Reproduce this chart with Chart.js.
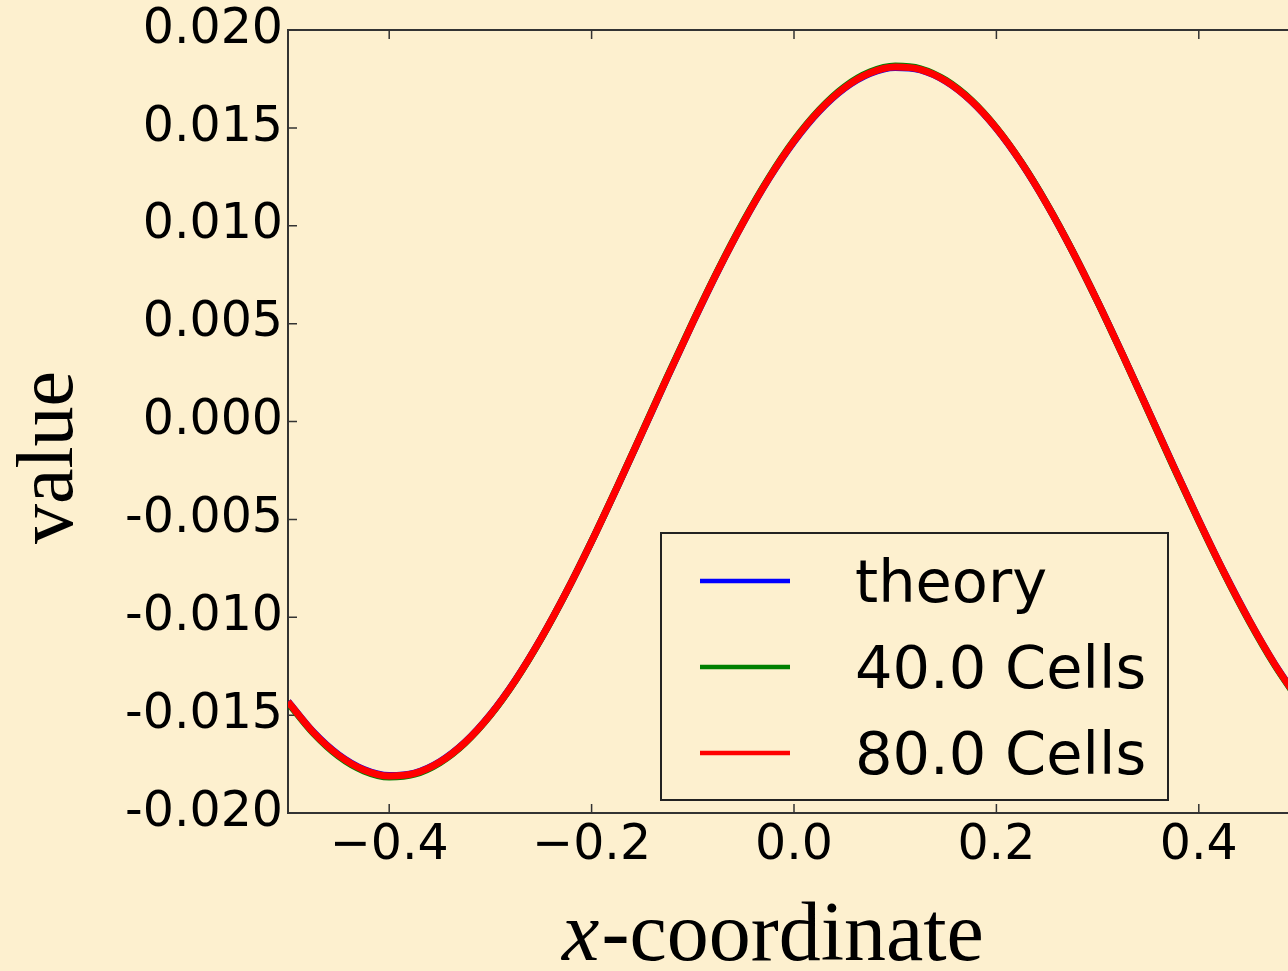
<!DOCTYPE html>
<html>
<head>
<meta charset="utf-8">
<script src="https://cdn.jsdelivr.net/npm/chart.js@4.4.0/dist/chart.umd.min.js"></script>
<style>
  html, body { margin: 0; padding: 0; background: #fdf0cf; overflow: hidden; }
  #wrap { width: 1300px; height: 971px; }
</style>
</head>
<body>
<div id="wrap"><canvas id="chart" width="1300" height="971"></canvas></div>
<script>
// --- DATA ---
const xCoords = [-0.500, -0.475, -0.450, -0.425, -0.400, -0.375, -0.350, -0.325, -0.300, -0.275,
                 -0.250, -0.225, -0.200, -0.175, -0.150, -0.125, -0.100, -0.075, -0.050, -0.025,
                 0.000, 0.025, 0.050, 0.075, 0.100, 0.125, 0.150, 0.175, 0.200, 0.225,
                 0.250, 0.275, 0.300, 0.325, 0.350, 0.375, 0.400, 0.425, 0.450, 0.475, 0.500];

const theoryValues = [-0.01430, -0.01586, -0.01703, -0.01778, -0.01809, -0.01796, -0.01738, -0.01638, -0.01497, -0.01319,
                      -0.01109, -0.00872, -0.00613, -0.00339, -0.00057, 0.00227, 0.00505, 0.00771, 0.01017, 0.01239,
                      0.01430, 0.01586, 0.01703, 0.01778, 0.01809, 0.01796, 0.01738, 0.01638, 0.01497, 0.01319,
                      0.01109, 0.00872, 0.00613, 0.00339, 0.00057, -0.00227, -0.00505, -0.00771, -0.01017, -0.01239, -0.01430];

const cells40Values = [-0.01436, -0.01592, -0.01710, -0.01785, -0.01816, -0.01802, -0.01743, -0.01642, -0.01500, -0.01321,
                       -0.01110, -0.00872, -0.00612, -0.00337, -0.00054, 0.00231, 0.00509, 0.00775, 0.01022, 0.01244,
                       0.01436, 0.01592, 0.01710, 0.01785, 0.01816, 0.01802, 0.01743, 0.01642, 0.01500, 0.01321,
                       0.01110, 0.00872, 0.00612, 0.00337, 0.00054, -0.00231, -0.00509, -0.00775, -0.01022, -0.01244, -0.01436];

const cells80Values = [-0.01432, -0.01588, -0.01705, -0.01780, -0.01811, -0.01798, -0.01740, -0.01639, -0.01498, -0.01320,
                       -0.01109, -0.00872, -0.00613, -0.00338, -0.00056, 0.00228, 0.00506, 0.00772, 0.01018, 0.01240,
                       0.01432, 0.01588, 0.01705, 0.01780, 0.01811, 0.01798, 0.01740, 0.01639, 0.01498, 0.01320,
                       0.01109, 0.00872, 0.00613, 0.00338, 0.00056, -0.00228, -0.00506, -0.00772, -0.01018, -0.01240, -0.01432];

const seriesLabels = ['theory', '40.0 Cells', '80.0 Cells'];
const seriesColors = ['#0000ff', '#008000', '#ff0000'];
const xTickValues = [-0.4, -0.2, 0.0, 0.2, 0.4];
const yTickValues = [-0.020, -0.015, -0.010, -0.005, 0.000, 0.005, 0.010, 0.015, 0.020];

// --- STYLE ---
const BG = '#fdf0cf';
const AXIS_COLOR = '#333333';
const TICK_FONT = { family: 'DejaVu Sans', size: 49 };

function toPoints(vals) { return xCoords.map((x, i) => ({ x: x, y: vals[i] })); }

function makeSet(i, vals) {
    return {
        label: seriesLabels[i],
        data: toPoints(vals),
        borderColor: seriesColors[i],
        backgroundColor: seriesColors[i],
        borderWidth: 7,
        pointRadius: 0,
        fill: false,
        order: seriesLabels.length - i, // later series drawn on top
        cubicInterpolationMode: 'monotone'
    };
}

// --- PLUGINS ---
const innerTicks = {
    id: 'innerTicks',
    beforeDatasetsDraw(chart) {
        const { ctx, chartArea, scales } = chart;
        ctx.save();
        ctx.strokeStyle = AXIS_COLOR;
        ctx.lineWidth = 1.5;
        ctx.beginPath();
        xTickValues.forEach(v => {
            const px = scales.x.getPixelForValue(v);
            ctx.moveTo(px, chartArea.bottom); ctx.lineTo(px, chartArea.bottom - 9);
            ctx.moveTo(px, chartArea.top); ctx.lineTo(px, chartArea.top + 9);
        });
        yTickValues.forEach(v => {
            const py = scales.y.getPixelForValue(v);
            ctx.moveTo(chartArea.left, py); ctx.lineTo(chartArea.left + 9, py);
        });
        ctx.stroke();
        ctx.restore();
    }
};

const boxLegend = {
    id: 'boxLegend',
    afterDraw(chart) {
        const { ctx, chartArea } = chart;
        const left = chartArea.left + 373, top = chartArea.top + 503;
        const w = 507, h = 267;
        ctx.save();
        ctx.fillStyle = BG;
        ctx.fillRect(left, top, w, h);
        ctx.strokeStyle = '#222';
        ctx.lineWidth = 2;
        ctx.strokeRect(left, top, w, h);
        ctx.font = '59px "DejaVu Sans"';
        ctx.textBaseline = 'alphabetic';
        ctx.textAlign = 'left';
        chart.data.datasets.forEach((ds, i) => {
            const y = top + 48 + i * 86;
            ctx.strokeStyle = ds.borderColor;
            ctx.lineWidth = 4.5;
            ctx.beginPath();
            ctx.moveTo(left + 39, y); ctx.lineTo(left + 129, y);
            ctx.stroke();
            ctx.fillStyle = '#000';
            ctx.fillText(ds.label, left + 194, y + 21);
        });
        ctx.restore();
    }
};

const axisTitles = {
    id: 'axisTitles',
    afterDraw(chart) {
        const { ctx, chartArea } = chart;
        ctx.save();
        ctx.fillStyle = '#000';
        // y title
        ctx.font = '80px "Liberation Serif"';
        ctx.textAlign = 'center';
        ctx.textBaseline = 'alphabetic';
        ctx.translate(chartArea.left - 216, (chartArea.top + chartArea.bottom) / 2 + 36);
        ctx.rotate(-Math.PI / 2);
        ctx.fillText('value', 0, 0);
        ctx.restore();

        // x title: italic x + regular rest
        ctx.save();
        ctx.fillStyle = '#000';
        ctx.textAlign = 'left';
        ctx.textBaseline = 'alphabetic';
        const italicFont = 'italic 84px "Liberation Serif"';
        const romanFont = '84px "Liberation Serif"';
        ctx.font = italicFont;
        const w1 = ctx.measureText('x').width;
        ctx.font = romanFont;
        const w2 = ctx.measureText('-coordinate').width;
        const cx = chartArea.left + 484;
        const base = chartArea.bottom + 147;
        let sx = cx - (w1 + w2) / 2;
        ctx.font = italicFont;
        ctx.fillText('x', sx, base);
        ctx.font = romanFont;
        ctx.fillText('-coordinate', sx + w1 + 2, base);
        ctx.restore();
    }
};

// --- CHART ---
Chart.defaults.animation = false;

new Chart(document.getElementById('chart'), {
    type: 'line',
    data: {
        datasets: [
            makeSet(0, theoryValues),
            makeSet(1, cells40Values),
            makeSet(2, cells80Values)
        ]
    },
    options: {
        responsive: false,
        devicePixelRatio: 1,
        animation: false,
        layout: { padding: 0 },
        plugins: { legend: { display: false }, tooltip: { enabled: false } },
        scales: {
            x: {
                type: 'linear',
                position: 'bottom',
                min: -0.5,
                max: 0.5,
                afterBuildTicks: s => { s.ticks = xTickValues.map(v => ({ value: v })); },
                afterFit: s => { s.height = 158; s.paddingLeft = 0; s.paddingRight = 0; },
                ticks: {
                    font: TICK_FONT,
                    color: '#000',
                    padding: 4,
                    maxRotation: 0,
                    autoSkip: false,
                    callback: v => (v < 0 ? '\u2212' : '') + Math.abs(v).toFixed(1)
                },
                grid: { display: true, drawOnChartArea: false, drawTicks: false, color: AXIS_COLOR },
                border: { display: true, color: AXIS_COLOR, width: 2 }
            },
            x2: {
                type: 'linear',
                axis: 'x',
                position: 'top',
                min: -0.5,
                max: 0.5,
                afterFit: s => { s.height = 30; s.paddingLeft = 0; s.paddingRight = 0; },
                ticks: { display: false },
                grid: { display: true, drawOnChartArea: false, drawTicks: false, color: AXIS_COLOR },
                border: { display: true, color: AXIS_COLOR, width: 2 }
            },
            y: {
                type: 'linear',
                position: 'left',
                min: -0.02,
                max: 0.02,
                afterBuildTicks: s => { s.ticks = yTickValues.map(v => ({ value: v })); },
                afterFit: s => { s.width = 288; s.paddingTop = 0; s.paddingBottom = 0; },
                ticks: {
                    font: TICK_FONT,
                    color: '#000',
                    padding: 5,
                    autoSkip: false,
                    callback: v => v.toFixed(3)
                },
                grid: { display: true, drawOnChartArea: false, drawTicks: false, color: AXIS_COLOR },
                border: { display: true, color: AXIS_COLOR, width: 2 }
            }
        }
    },
    plugins: [innerTicks, boxLegend, axisTitles]
});
</script>
</body>
</html>
